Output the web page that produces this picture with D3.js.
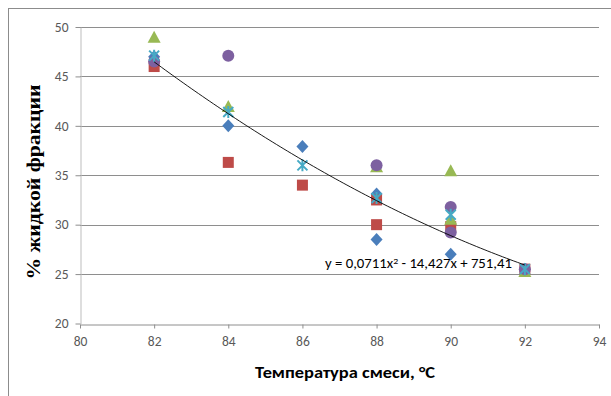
<!DOCTYPE html>
<html>
<head>
<meta charset="utf-8">
<script src="https://cdn.jsdelivr.net/npm/d3@7/dist/d3.min.js"></script>
<style>
  body { margin: 0; background: #fff; }
  svg { display: block; }
  .tick text { font-family: Calibri, Carlito, "Open Sans", sans-serif; fill: #595959; }
</style>
</head>
<body>
<div id="chart"></div>
<script>
// Data
let xTicks = [80, 82, 84, 86, 88, 90, 92, 94];
let yTicks = [20, 25, 30, 35, 40, 45, 50];

let diamondX = [82, 84, 86, 88, 88, 90, 92];
let diamondY = [47.0, 40.0, 37.9, 33.1, 28.5, 27.0, 25.5];
let squareX = [82, 84, 86, 88, 88, 90, 92];
let squareY = [46.0, 36.3, 34.0, 32.5, 30.0, 29.8, 25.5];
let triangleX = [82, 84, 88, 90, 90, 92];
let triangleY = [48.9, 41.9, 35.8, 35.4, 30.5, 25.2];
let circleX = [82, 84, 88, 90, 90, 92];
let circleY = [46.5, 47.1, 36.0, 31.8, 29.2, 25.5];
let starX = [82, 84, 86, 88, 90, 92];
let starY = [47.1, 41.4, 36.0, 32.7, 31.0, 25.5];

// polynomial trendline coefficients (a, b, c) from the chart label
let trendCoef = [0.0711, -14.427, 751.41];
let trendRange = [82, 92];

let width = 611, height = 396;

let svg = d3.select('#chart')
  .append('svg')
  .attr('width', width)
  .attr('height', height);

// outer chart frame (cut off at right and bottom)
svg.append('rect')
  .attr('x', 8.5).attr('y', 8.5)
  .attr('width', 640).attr('height', 420)
  .attr('fill', 'none')
  .attr('stroke', '#8c8c8c');

let xScale = d3.scaleLinear().domain([80, 94]).range([80, 599]);
let yScale = d3.scaleLinear().domain([20, 50]).range([323.5, 27]);

// gridlines
svg.append('g')
  .selectAll('line')
  .data(yTicks.filter(d => d > 20))
  .enter()
  .append('line')
    .attr('x1', xScale(80)).attr('x2', xScale(94))
    .attr('y1', d => Math.round(yScale(d)) + 0.5)
    .attr('y2', d => Math.round(yScale(d)) + 0.5)
    .attr('stroke', '#8e8e8e');

// y axis
let yAxis = svg.append('g')
  .attr('transform', `translate(${xScale(80) + 0.5},0)`)
  .call(d3.axisLeft(yScale).tickValues(yTicks).tickSize(5).tickSizeOuter(0).tickPadding(7));
yAxis.select('.domain').attr('stroke', '#bdbdbd');
yAxis.selectAll('.tick line').attr('stroke', '#8e8e8e');
yAxis.selectAll('.tick text').style('font-size', '13.5px');

// x axis
let xAxis = svg.append('g')
  .attr('transform', `translate(0,${Math.round(yScale(20)) + 0.5})`)
  .call(d3.axisBottom(xScale).tickValues(xTicks).tickSize(4).tickSizeOuter(0).tickPadding(8));
xAxis.select('.domain').attr('stroke', '#8e8e8e');
xAxis.selectAll('.tick line').attr('stroke', '#8e8e8e');
xAxis.selectAll('.tick text').style('font-size', '13.5px');

// axis titles
svg.append('text')
  .attr('x', 345).attr('y', 378)
  .attr('text-anchor', 'middle')
  .style('font-family', 'Calibri, Carlito, "Open Sans", sans-serif')
  .style('font-weight', 'bold')
  .style('font-size', '15px')
  .attr('textLength', 180)
  .attr('lengthAdjust', 'spacingAndGlyphs')
  .attr('fill', '#000')
  .text('Температура смеси, °С');

svg.append('text')
  .attr('transform', 'translate(40,182) rotate(-90)')
  .attr('text-anchor', 'middle')
  .style('font-family', '"Liberation Serif", "Times New Roman", serif')
  .style('font-weight', 'bold')
  .style('font-size', '19px')
  .attr('textLength', 195)
  .attr('lengthAdjust', 'spacingAndGlyphs')
  .text('% жидкой фракции');

// markers
let plot = svg.append('g');

function pairs(xs, ys) {
  return xs.map(function(x, i) { return { x: x, y: ys[i] }; });
}

plot.selectAll('.diamond')
  .data(pairs(diamondX, diamondY))
  .enter()
  .append('path')
    .attr('class', 'diamond')
    .attr('d', 'M0,-6.5L6,0L0,6.5L-6,0Z')
    .attr('transform', d => `translate(${xScale(d.x)},${yScale(d.y)})`)
    .attr('fill', '#4a7ebb');

plot.selectAll('.square')
  .data(pairs(squareX, squareY))
  .enter()
  .append('rect')
    .attr('class', 'square')
    .attr('x', d => xScale(d.x) - 5.5)
    .attr('y', d => yScale(d.y) - 5.5)
    .attr('width', 11).attr('height', 11)
    .attr('fill', '#be4b48');

plot.selectAll('.triangle')
  .data(pairs(triangleX, triangleY))
  .enter()
  .append('path')
    .attr('class', 'triangle')
    .attr('d', 'M0,-7L6.5,5L-6.5,5Z')
    .attr('transform', d => `translate(${xScale(d.x)},${yScale(d.y)})`)
    .attr('fill', '#98b954');

plot.selectAll('.circle')
  .data(pairs(circleX, circleY))
  .enter()
  .append('circle')
    .attr('class', 'circle')
    .attr('cx', d => xScale(d.x))
    .attr('cy', d => yScale(d.y))
    .attr('r', 6)
    .attr('fill', '#7d60a0');

plot.selectAll('.star')
  .data(pairs(starX, starY))
  .enter()
  .append('path')
    .attr('class', 'star')
    .attr('d', 'M-5,-5L5,5M-5,5L5,-5M0,-6L0,6')
    .attr('transform', d => `translate(${xScale(d.x)},${yScale(d.y)})`)
    .attr('fill', 'none')
    .attr('stroke', '#46aac5')
    .attr('stroke-width', 2);

// trendline
let trendX = d3.range(trendRange[0], trendRange[1] + 0.001, 0.1);
let trendLine = d3.line()
  .x(d => xScale(d))
  .y(d => yScale(trendCoef[0] * d * d + trendCoef[1] * d + trendCoef[2]));

svg.append('path')
  .datum(trendX)
  .attr('d', trendLine)
  .attr('fill', 'none')
  .attr('stroke', '#000')
  .attr('stroke-width', 0.9);

// trendline equation
let eq = svg.append('text')
  .attr('x', 325).attr('y', 268)
  .style('font-family', 'Calibri, Carlito, "Open Sans", sans-serif')
  .style('font-size', '13.5px')
  .attr('fill', '#000')
  .attr('textLength', 187)
  .attr('lengthAdjust', 'spacingAndGlyphs');
eq.append('tspan').text('y = 0,0711x');
eq.append('tspan').attr('dy', -4).style('font-size', '9px').text('2');
eq.append('tspan').attr('dy', 4).text(' - 14,427x + 751,41');
</script>
</body>
</html>
